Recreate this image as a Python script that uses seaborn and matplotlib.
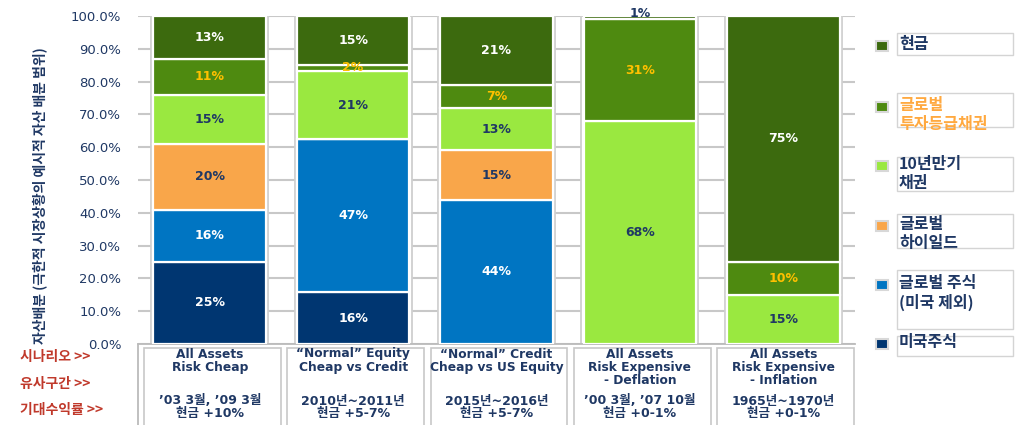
import numpy as np
import pandas as pd
import matplotlib
matplotlib.use("Agg")
import matplotlib.pyplot as plt
import matplotlib.transforms as mtransforms
from matplotlib.patches import Rectangle
import seaborn as sns

# ---------------- data ----------------
scenarios = ['All Assets\nRisk Cheap',
             '\u201cNormal\u201d Equity\nCheap vs Credit',
             '\u201cNormal\u201d Credit\nCheap vs US Equity',
             'All Assets\nRisk Expensive\n- Deflation',
             'All Assets\nRisk Expensive\n- Inflation']
periods = ['\u201903 3월, \u201909 3월', '2010년~2011년', '2015년~2016년',
           '\u201900 3월, \u201907 10월', '1965년~1970년']
returns = ['현금 +10%', '현금 +5-7%', '현금 +5-7%', '현금 +0-1%', '현금 +0-1%']

series_names = ['미국주식', '글로벌 주식\n(미국 제외)', '글로벌\n하이일드',
                '10년만기\n채권', '글로벌\n투자등급채권', '현금']
us_equity = [25, 16, 0, 0, 0]
global_equity = [16, 47, 44, 0, 0]
high_yield = [20, 0, 15, 0, 0]
treasury_10y = [15, 21, 13, 68, 15]
ig_bond = [11, 2, 7, 31, 10]
cash = [13, 15, 21, 1, 75]

row_labels = ['시나리오 >>', '유사구간 >>', '기대수익률 >>']
yticks = [0, 10, 20, 30, 40, 50, 60, 70, 80, 90, 100]

# ---------------- style ----------------
NAVY = '#1F3864'
colors = ['#003671', '#0075C2', '#F9A64A', '#9AE840', '#4E8A10', '#3C6A0E']
label_colors = ['white', 'white', NAVY, NAVY, '#FFC000', 'white']
FAM = ['DejaVu Sans', 'Noto Sans CJK KR']
FAM_K = ['Noto Sans CJK KR', 'DejaVu Sans']

sns.set_theme(style='white')
plt.rcParams['font.family'] = FAM

W, H = 1017, 425
fig = plt.figure(figsize=(W / 100, H / 100), dpi=100)
ax = fig.add_axes([138 / W, 1 - 344 / H, (855 - 138) / W, (344 - 16) / H])

values = np.array([us_equity, global_equity, high_yield, treasury_10y, ig_bond, cash], dtype=float)
totals = values.sum(axis=0)
heights = values / totals * 100.0

# grey frame behind each stacked bar
frame_df = pd.DataFrame({'scenario': scenarios, 'total': heights.sum(axis=0)})
sns.barplot(data=frame_df, x='scenario', y='total', ax=ax, width=0.815,
            color='white', edgecolor='#CFCFCF', linewidth=1.3, saturation=1,
            zorder=2)

bottom = np.zeros(len(scenarios))
for k, name in enumerate(series_names):
    df = pd.DataFrame({'scenario': scenarios, 'value': heights[k]})
    sns.barplot(data=df, x='scenario', y='value', ax=ax, bottom=bottom,
                width=0.785, color=colors[k], saturation=1,
                edgecolor='white', linewidth=1.6, zorder=3)
    for i in range(len(scenarios)):
        v = values[k, i]
        if v <= 0:
            continue
        h = heights[k, i]
        if k == len(series_names) - 1 and v < 3:
            ax.text(i, 100.9, f'{int(v)}%', ha='center', va='center',
                    color=NAVY, fontsize=9, fontweight='bold', zorder=5,
                    clip_on=False)
        else:
            ax.text(i, bottom[i] + h / 2, f'{int(v)}%', ha='center', va='center',
                    color=label_colors[k], fontsize=9, fontweight='bold', zorder=5)
    bottom = bottom + heights[k]

ax.set_xlim(-0.5, len(scenarios) - 0.5)
ax.set_ylim(0, 100)
ax.set_yticks(yticks)
ax.set_yticklabels([f'{t:.1f}%' for t in yticks], color=NAVY, fontsize=9.5)
ax.set_xticks([])
ax.set_xlabel('')
ax.set_ylabel('')
ax.yaxis.grid(True, color='#C8C8C8', linewidth=1.5, zorder=0)
ax.set_axisbelow(True)
for s in ['left', 'right', 'top']:
    ax.spines[s].set_visible(False)
ax.spines['bottom'].set_color('#BBBBBB')
ax.spines['bottom'].set_linewidth(1.3)
ax.tick_params(axis='y', length=0, pad=12)

fig.text(40 / W, 1 - 196 / H, '자산배분 (극한적 시장상황의 예시적 자산 배분 범위)',
         rotation=90, ha='center', va='center', color=NAVY, fontsize=10,
         fontweight='bold', family=FAM_K)

# ---------------- table under the bars ----------------
trans = mtransforms.blended_transform_factory(ax.transData, ax.transAxes)
ppx = 1.0 / 328.0  # axes-y per pixel


def ay(px):
    return (344 - px) * ppx


ax.plot([-0.5, -0.5], [0, ay(430)], transform=trans, color='#BBBBBB',
        lw=1.3, clip_on=False)
for i in range(len(scenarios)):
    ax.add_patch(Rectangle((i - 0.46, ay(430)), 0.955, ay(348) - ay(430),
                           transform=trans, facecolor='white',
                           edgecolor='#C8C8C8', lw=1.2, clip_on=False))
    ax.text(i, ay(347.5), scenarios[i], transform=trans, ha='center', va='top',
            color=NAVY, fontsize=8.8, fontweight='bold', linespacing=1.05)
    ax.text(i, ay(394.5), periods[i] + '\n' + returns[i], transform=trans,
            ha='center', va='top', color=NAVY, fontsize=9,
            fontweight='bold', linespacing=1.0)

for j, lab in enumerate(row_labels):
    fig.text(20 / W, 1 - [357, 384, 410][j] / H, lab, ha='left', va='center',
             color='#C0392B', fontsize=10, fontweight='bold', family=FAM_K)

# ---------------- legend on the right ----------------
leg_y = [46, 107, 166, 226, 285, 344]
box_px = [(33, 55), (93, 127), (157, 191), (214, 248), (270, 329), (336, 356)]
legend_order = list(range(len(series_names)))[::-1]
for n, k in enumerate(legend_order):
    yc = leg_y[n]
    fig.patches.append(Rectangle(((876) / W, 1 - (yc + 5) / H), 12 / W, 10 / H,
                                 transform=fig.transFigure, facecolor=colors[k],
                                 edgecolor='#D8D8D8', lw=1.5))
    b0, b1 = box_px[n]
    fig.patches.append(Rectangle((897 / W, 1 - b1 / H), 116 / W, (b1 - b0) / H,
                                 transform=fig.transFigure, facecolor='none',
                                 edgecolor='#D4D4D4', lw=1))
    txt_color = '#FFA940' if k == 4 else NAVY
    fig.text(899 / W, 1 - (yc - 10) / H, series_names[k], ha='left', va='top',
             color=txt_color, fontsize=11.5, fontweight='bold',
             linespacing=1.2, family=FAM_K)

fig.savefig('out.png', dpi=100)
